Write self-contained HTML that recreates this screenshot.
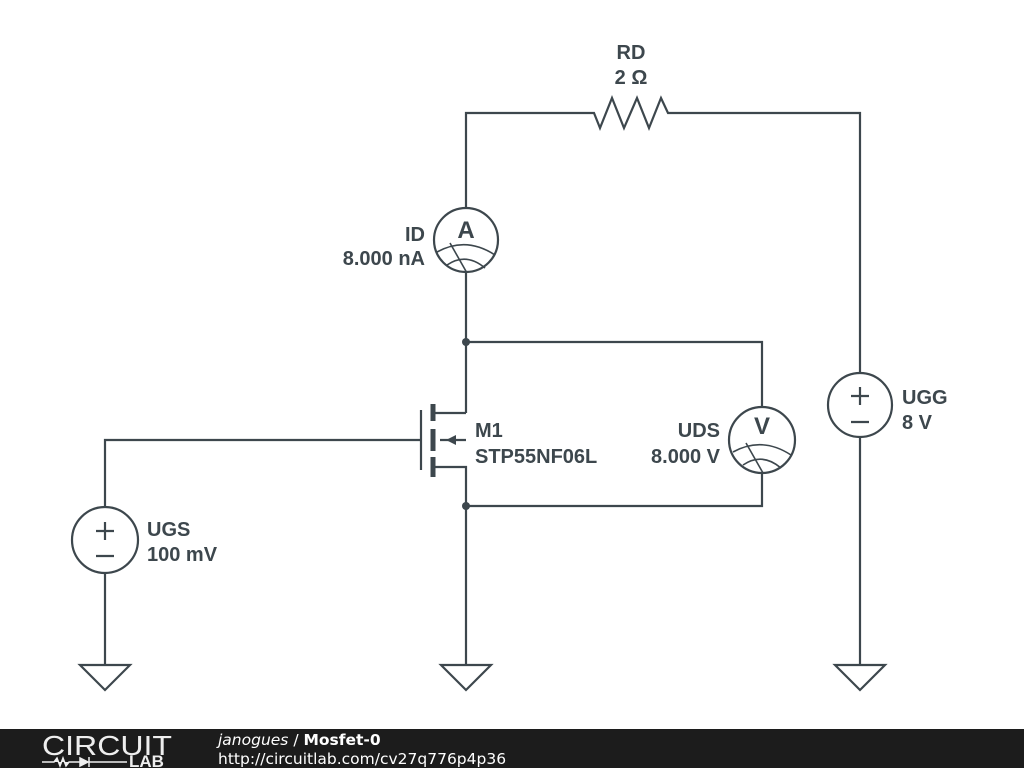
<!DOCTYPE html><html><head><style>body{margin:0;background:#fff}svg{display:block}text{font-family:"Liberation Sans",sans-serif;font-weight:bold;fill:#3d474d;font-size:20px}</style></head><body>
<svg width="1024" height="768" viewBox="0 0 1024 768">
<g stroke="#3d474d" stroke-width="2.2" fill="none">
<polyline points="466,208 466,113 594,113 600,128 612,98 624,128 637,98 649,128 661,98 668,113 860,113 860,373"/>
<line x1="860" y1="437" x2="860" y2="665"/>
<line x1="466" y1="272" x2="466" y2="413"/>
<polyline points="433,413 466,413"/>
<polyline points="433,467 466,467 466,665"/>
<polyline points="466,342 762,342 762,407"/>
<polyline points="762,473 762,506 466,506"/>
<line x1="440" y1="440" x2="466" y2="440"/>
<polyline points="105,507 105,440 421,440"/>
<line x1="105" y1="573" x2="105" y2="665"/>
<line x1="421" y1="410" x2="421" y2="470"/>
<circle cx="466" cy="240" r="32" fill="#fff"/>
<circle cx="762" cy="440" r="33" fill="#fff"/>
<circle cx="860" cy="405" r="32"/>
<circle cx="105" cy="540" r="33"/>
<path d="M437,252 Q466,236 495,255 M447,265 Q466,252 485,268 M450,243 L467,273" stroke-width="1.6"/>
<path d="M733,452 Q762,436 791,455 M743,465 Q762,452 781,468 M746,443 L763,473" stroke-width="1.6"/>
<path d="M851,396 h18 M860,387 v18 M851,422 h18"/>
<path d="M96,531 h18 M105,522 v18 M96,556 h18"/>
<path d="M80,665 h50 L105,690 Z M441,665 h50 L466,690 Z M835,665 h50 L860,690 Z"/>
</g>
<g stroke="#3d474d" stroke-width="5">
<line x1="433" y1="404" x2="433" y2="421"/>
<line x1="433" y1="429" x2="433" y2="451"/>
<line x1="433" y1="457" x2="433" y2="477"/>
</g>
<polygon points="446,440 456,435 456,445" fill="#3d474d"/>
<circle cx="466" cy="342" r="4" fill="#3d474d"/>
<circle cx="466" cy="506" r="4" fill="#3d474d"/>
<text x="466" y="238" text-anchor="middle" style="font-size:24px">A</text>
<text x="762" y="434" text-anchor="middle" style="font-size:24px">V</text>
<text x="631" y="59" text-anchor="middle">RD</text>
<text x="631" y="84" text-anchor="middle">2 Ω</text>
<text x="425" y="241" text-anchor="end">ID</text>
<text x="425" y="265" text-anchor="end">8.000 nA</text>
<text x="475" y="437">M1</text>
<text x="475" y="463">STP55NF06L</text>
<text x="720" y="437" text-anchor="end">UDS</text>
<text x="720" y="463" text-anchor="end">8.000 V</text>
<text x="902" y="404">UGG</text>
<text x="902" y="429">8 V</text>
<text x="147" y="536">UGS</text>
<text x="147" y="561">100 mV</text>
<rect x="0" y="729" width="1024" height="39" fill="#1c1c1c"/>
<text x="42" y="755" textLength="130" lengthAdjust="spacingAndGlyphs" style="font-weight:normal;fill:#eee;font-size:28px">CIRCUIT</text>
<path d="M42,762 h12 l3,-4 3,8 3,-8 3,8 3,-4 h12 M80,758 v8 l8,-4 z M89,757 v10 M89,762 h38" stroke="#eee" stroke-width="1.5" fill="#eee"/>
<text x="129" y="767" style="fill:#eee;font-size:17px">LAB</text>
<text x="218" y="745" style="font-family:'DejaVu Sans',sans-serif;font-weight:normal;fill:#fff;font-size:15.5px"><tspan font-style="italic">janogues</tspan> / <tspan font-weight="bold">Mosfet-0</tspan></text>
<text x="218" y="764" style="font-family:'DejaVu Sans',sans-serif;font-weight:normal;fill:#fff;font-size:15.5px">http://circuitlab.com/cv27q776p4p36</text>
</svg></body></html>
